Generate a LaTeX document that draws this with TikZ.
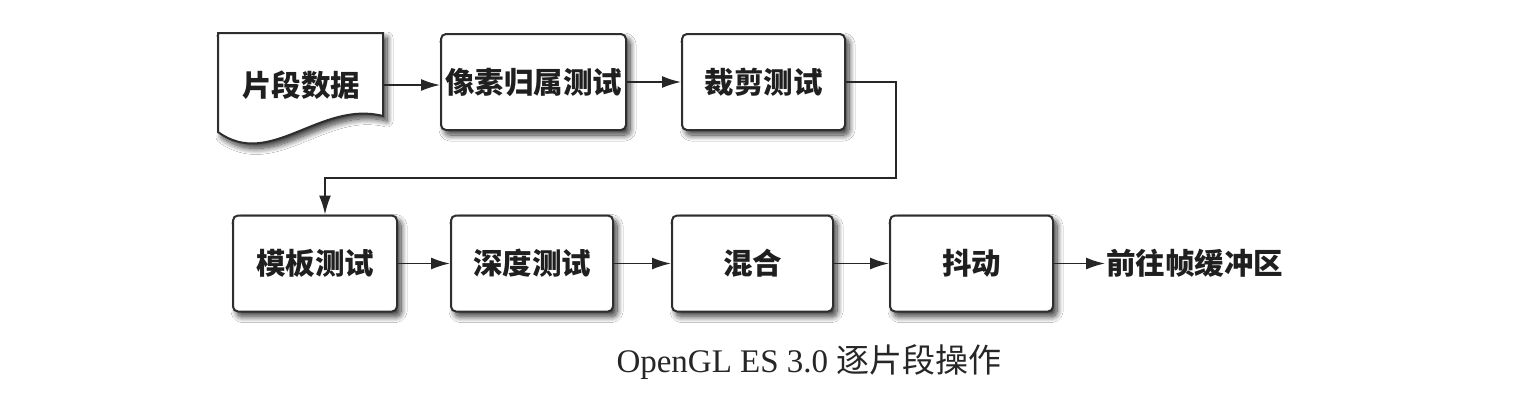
\documentclass[tikz,border=0pt]{standalone}
\usepackage{fontspec}
\setmainfont{Liberation Serif}
\newfontfamily\cjk{Noto Sans CJK SC}
\usetikzlibrary{arrows.meta,shadows.blur}
\begin{document}
\begin{tikzpicture}[x=1pt,y=-1pt,
  shad/.style={blur shadow={shadow xshift=4pt, shadow yshift=-5pt, shadow blur radius=6pt, shadow blur steps=12, shadow opacity=80}},
  boxtext/.style={font=\cjk\bfseries\fontsize{29.5}{34}\selectfont, text=black!88},
  stagebox/.style={boxtext, draw=black!82, line width=2pt, rounded corners=5pt, fill=white, minimum height=96pt, inner sep=0pt, shad},
  arr/.style={line width=1.8pt, draw=black!85, -{Latex[length=19pt,width=12pt]}},
]
\useasboundingbox (0,0) rectangle (1518,400);
\fill[white] (0,0) rectangle (1518,400);
% document shape
\path[draw=black!82, line width=2pt, fill=white, shad]
  (218,33) -- (383,33) -- (383,116) .. controls (320,100) and (270,170) .. (218,132) -- cycle;
\node[boxtext, minimum width=165pt, inner sep=0pt] (doc) at (301,85) {片段数据};
% row 1
\node[stagebox, minimum width=185pt] (b2) at (533.5,82) {像素归属测试};
\node[stagebox, minimum width=163pt] (b3) at (763.5,82) {裁剪测试};
% row 2
\node[stagebox, minimum width=164pt] (b4) at (315,263.5) {模板测试};
\node[stagebox, minimum width=162pt] (b5) at (532,263.5) {深度测试};
\node[stagebox, minimum width=161pt] (b6) at (752.5,263.5) {混合};
\node[stagebox, minimum width=163pt] (b7) at (971.5,263.5) {抖动};
\node[boxtext, anchor=west, inner sep=1pt] (out) at (1105,263.5) {前往帧缓冲区};
% caption
\node[font=\fontsize{33}{38}\selectfont, text=black!85] (cap) at (809,362) {OpenGL ES 3.0 {\cjk 逐片段操作}};
% connectors
\draw[arr] (doc.east) -- (doc.east -| b2.west);
\draw[arr] (b2.east) -- (b3.west);
\coordinate (c1) at (896,178);
\draw[arr] (b3.east) -| (c1) -| ([xshift=10pt]b4.north);
\draw[arr] (b4.east) -- (b5.west);
\draw[arr] (b5.east) -- (b6.west);
\draw[arr] (b6.east) -- (b7.west);
\draw[arr] (b7.east) -- (out.west);
\end{tikzpicture}
\end{document}
